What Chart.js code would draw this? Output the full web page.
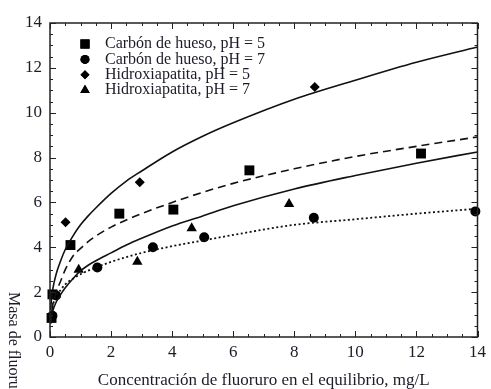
<!DOCTYPE html>
<html lang="es">
<head>
<meta charset="UTF-8">
<title>Isotermas de adsorción de fluoruro</title>
<script src="https://cdn.jsdelivr.net/npm/chart.js"></script>
<style>
  html, body { margin: 0; padding: 0; background: #fff; }
</style>
</head>
<body>
<canvas id="grafico_isotermas" width="491" height="389"></canvas>
<script>
const carbonPh5X = [0.05, 0.08, 0.67, 2.27, 4.04, 6.53, 12.15];
const carbonPh5Y = [0.85, 1.9, 4.1, 5.5, 5.68, 7.43, 8.18];
const carbonPh7X = [0.08, 0.2, 1.55, 3.37, 5.05, 8.64, 13.93];
const carbonPh7Y = [0.95, 1.85, 3.1, 4.0, 4.45, 5.32, 5.6];
const hidroxPh5X = [0.51, 2.94, 8.67];
const hidroxPh5Y = [5.12, 6.9, 11.15];
const hidroxPh7X = [0.94, 2.86, 4.64, 7.83];
const hidroxPh7Y = [3.0, 3.35, 4.85, 5.93];

// curvas de ajuste (leidas punto a punto)
const curvaX      = [0.02, 0.05, 0.1, 0.2, 0.35, 0.5, 0.75, 1, 1.25, 1.5, 2, 2.5, 3, 4, 5, 6, 8, 10, 12, 14];
const ajusteHid5  = [1.2, 1.7, 2.2, 2.8, 3.4, 3.9, 4.5, 5.0, 5.4, 5.75, 6.4, 6.95, 7.4, 8.25, 8.95, 9.55, 10.6, 11.45, 12.25, 12.93];
const ajusteCar5  = [0.6, 1.0, 1.5, 2.0, 2.5, 3.0, 3.6, 3.95, 4.25, 4.5, 4.9, 5.22, 5.5, 6.0, 6.45, 6.85, 7.5, 8.05, 8.5, 8.92];
const ajusteHid7  = [0.6, 0.9, 1.2, 1.55, 1.9, 2.2, 2.6, 2.95, 3.2, 3.4, 3.75, 4.1, 4.4, 4.95, 5.4, 5.85, 6.6, 7.2, 7.75, 8.25];
const ajusteCar7  = [0.7, 1.1, 1.45, 1.8, 2.1, 2.35, 2.6, 2.8, 2.96, 3.1, 3.35, 3.56, 3.75, 4.05, 4.3, 4.55, 5.0, 5.25, 5.5, 5.72];

const leyenda = ['Carbón de hueso, pH = 5', 'Carbón de hueso, pH = 7', 'Hidroxiapatita, pH = 5', 'Hidroxiapatita, pH = 7'];
const ticksEje = [0, 2, 4, 6, 8, 10, 12, 14];

const fuente = '"Liberation Serif", "Times New Roman", serif';
const tinta = '#1c1c28';

function pares(xs, ys) {
  return xs.map((x, i) => ({ x: x, y: ys[i] }));
}

function puntos(label, xs, ys, estilo, radio) {
  return {
    type: 'scatter', label: label, data: pares(xs, ys),
    pointStyle: estilo, pointRadius: radio, pointHoverRadius: radio,
    backgroundColor: '#000', borderColor: '#000', borderWidth: 0, clip: false
  };
}

function curva(ys, guiones, ancho) {
  return {
    type: 'line', label: '', data: pares(curvaX, ys),
    borderColor: '#111', borderWidth: ancho, borderDash: guiones,
    pointRadius: 0, fill: false, cubicInterpolationMode: 'monotone'
  };
}

// marco, marcas menores, leyenda y titulos
const decorado = {
  id: 'decorado',
  afterDraw(chart) {
    const ctx = chart.ctx;
    const a = chart.chartArea;
    const x = chart.scales.x, y = chart.scales.y;
    ctx.save();
    ctx.strokeStyle = '#222';
    ctx.lineWidth = 1.5;
    ctx.strokeRect(a.left, a.top, a.right - a.left, a.bottom - a.top);

    ctx.lineWidth = 1;
    ctx.beginPath();
    for (let v = 0; v <= 14; v += 0.5) {
      const largo = v % 2 === 0 ? 6 : 3;
      const px = Math.round(x.getPixelForValue(v)) + 0.5;
      ctx.moveTo(px, a.bottom); ctx.lineTo(px, a.bottom - largo);
      ctx.moveTo(px, a.top); ctx.lineTo(px, a.top + largo);
      const py = Math.round(y.getPixelForValue(v)) + 0.5;
      ctx.moveTo(a.left, py); ctx.lineTo(a.left + largo, py);
      ctx.moveTo(a.right, py); ctx.lineTo(a.right - largo, py);
    }
    ctx.stroke();

    // leyenda
    const estilos = [['rect', 7], ['circle', 5], ['rectRot', 5], ['triangle', 6]];
    ctx.font = '16px ' + fuente;
    ctx.textBaseline = 'middle';
    ctx.textAlign = 'left';
    ctx.fillStyle = '#000';
    for (let i = 0; i < leyenda.length; i++) {
      const fy = 44 + i * 15.4;
      Chart.helpers.drawPoint(ctx, { pointStyle: estilos[i][0], radius: estilos[i][1] - 0.5, borderWidth: 0 }, 85, fy);
      ctx.fill();
      ctx.fillStyle = tinta;
      ctx.fillText(leyenda[i], 105, fy);
      ctx.fillStyle = '#000';
    }

    // titulos de ejes
    ctx.fillStyle = tinta;
    ctx.font = '17px ' + fuente;
    ctx.textAlign = 'center';
    ctx.fillText('Concentración de fluoruro en el equilibrio, mg/L', (a.left + a.right) / 2, 381);
    ctx.font = '16px ' + fuente;
    ctx.translate(13, 292);
    ctx.rotate(Math.PI / 2);
    ctx.textAlign = 'left';
    ctx.fillText('Masa de fluoruro adsorbido, mg/g', 0, 0);
    ctx.restore();
  }
};

new Chart(document.getElementById('grafico_isotermas'), {
  data: {
    datasets: [
      curva(ajusteHid5, [], 1.6),
      curva(ajusteCar5, [8, 5], 1.6),
      curva(ajusteHid7, [], 1.6),
      curva(ajusteCar7, [2, 2.5], 1.8),
      puntos(leyenda[0], carbonPh5X, carbonPh5Y, 'rect', 7),
      puntos(leyenda[1], carbonPh7X, carbonPh7Y, 'circle', 5),
      puntos(leyenda[2], hidroxPh5X, hidroxPh5Y, 'rectRot', 5),
      puntos(leyenda[3], hidroxPh7X, hidroxPh7Y, 'triangle', 6)
    ]
  },
  options: {
    responsive: false,
    animation: false,
    layout: { padding: { left: 0, right: 10, top: 23, bottom: 0 } },
    plugins: { legend: { display: false }, tooltip: { enabled: false } },
    scales: {
      x: {
        type: 'linear', min: 0, max: 14,
        grid: { display: false, drawTicks: false },
        border: { display: false },
        afterBuildTicks: s => { s.ticks = ticksEje.map(v => ({ value: v })); },
        afterFit: s => { s.height = 52; },
        ticks: { color: tinta, font: { family: fuente, size: 17 }, padding: 5, maxRotation: 0 }
      },
      y: {
        type: 'linear', min: 0, max: 14,
        grid: { display: false, drawTicks: false },
        border: { display: false },
        afterBuildTicks: s => { s.ticks = ticksEje.map(v => ({ value: v })); },
        afterFit: s => { s.width = 50; },
        ticks: { color: tinta, font: { family: fuente, size: 17 }, padding: 8 }
      }
    }
  },
  plugins: [decorado]
});
</script>
</body>
</html>
